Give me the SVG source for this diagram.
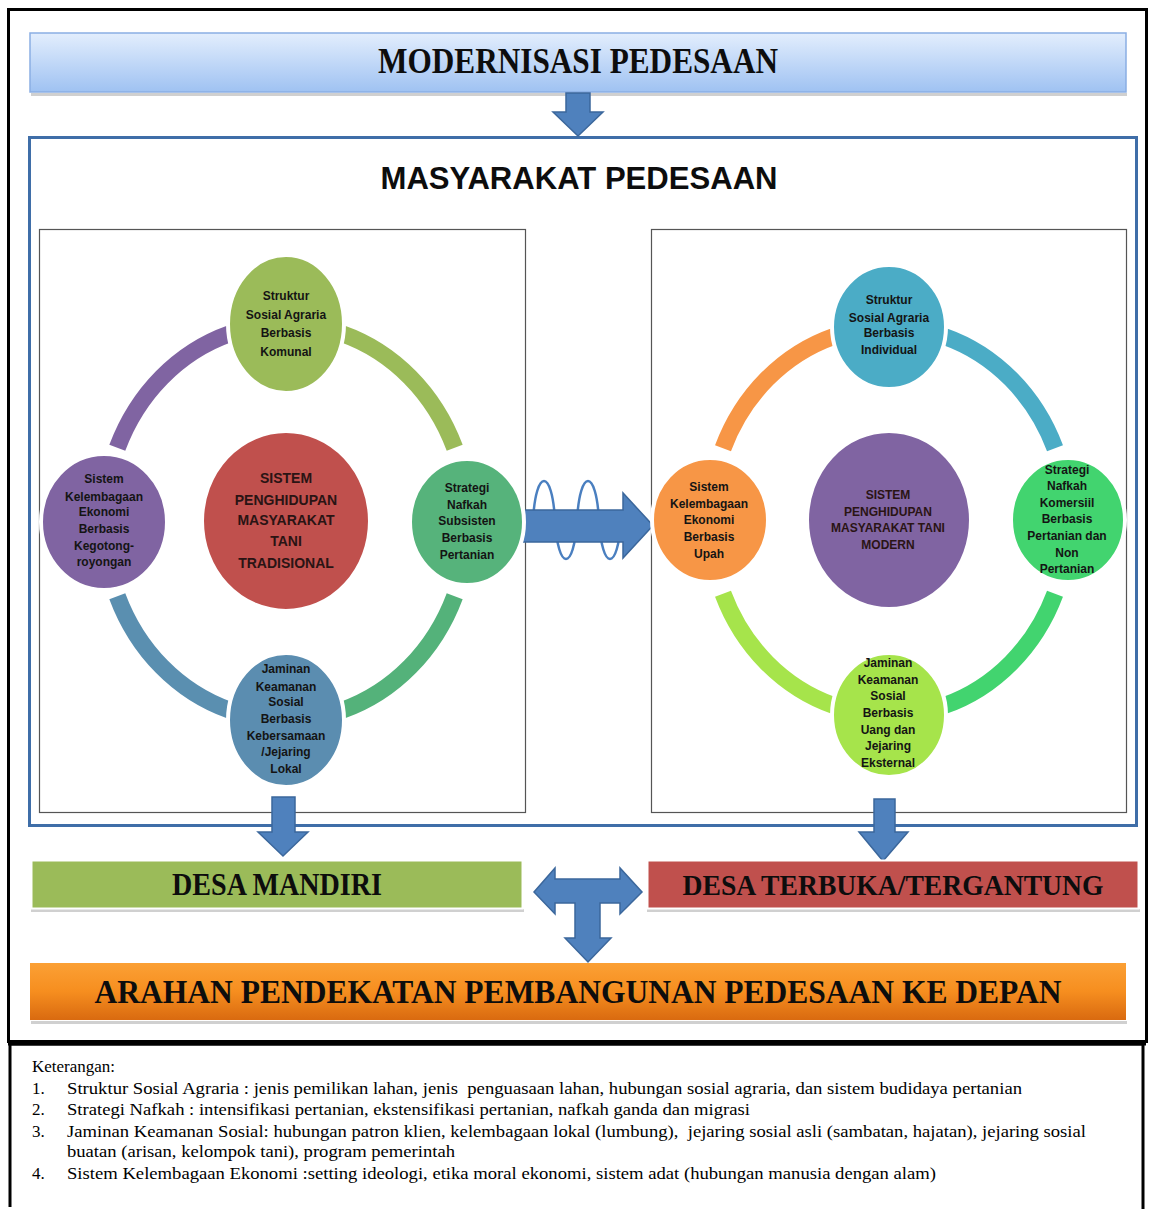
<svg xmlns="http://www.w3.org/2000/svg" width="1151" height="1209" viewBox="0 0 1151 1209">
<defs>
<linearGradient id="gBlue" x1="0" y1="0" x2="0" y2="1"><stop offset="0" stop-color="#e3eefd"/><stop offset="1" stop-color="#9fc2f2"/></linearGradient>
<linearGradient id="gOrange" x1="0" y1="0" x2="0" y2="1"><stop offset="0" stop-color="#fba035"/><stop offset="0.5" stop-color="#f68e1f"/><stop offset="1" stop-color="#d96a10"/></linearGradient>
<style>
.ban{font-family:"Liberation Serif","Times New Roman",serif;font-weight:bold;fill:#0d0d0d;text-anchor:middle}
.ct{font-family:"Liberation Sans",Arial,sans-serif;font-weight:bold;font-size:12px;fill:#141414;text-anchor:middle}
.cc{font-family:"Liberation Sans",Arial,sans-serif;font-weight:bold;fill:#2a1414;text-anchor:middle}
.leg{font-family:"Liberation Serif","Times New Roman",serif;font-size:17px;fill:#000;white-space:pre}
.arr{fill:#4f81bd;stroke:#3b679c;stroke-width:1.5}
.ring{fill:none;stroke-width:17}
.halo{stroke:#fff;stroke-width:4}
.shadow{fill:#d0d0d0}
</style>
</defs>
<rect width="1151" height="1209" fill="#fff"/>
<!-- frames -->
<rect x="8.5" y="9.5" width="1138" height="1032" fill="none" stroke="#000" stroke-width="3"/>
<path d="M10 1207 V1044 H1143 V1209" fill="none" stroke="#000" stroke-width="3"/>
<line x1="8" y1="1043" x2="1146" y2="1043" stroke="#000" stroke-width="5"/>

<g id="modernisasi">
<rect x="31" y="93" width="1096" height="3" class="shadow"/>
<rect x="30" y="33" width="1096" height="59" fill="url(#gBlue)" stroke="#8aaee3" stroke-width="1.5"/>
<text x="578" y="73" class="ban" font-size="35" textLength="400" lengthAdjust="spacingAndGlyphs">MODERNISASI PEDESAAN</text>
</g>

<g id="masyarakat">
<rect x="29.5" y="137.5" width="1107" height="688" fill="#fff" stroke="#3f6ea8" stroke-width="3"/>
<text x="579" y="189" font-family="Liberation Sans,Arial,sans-serif" font-weight="bold" font-size="32" text-anchor="middle" fill="#0d0d0d" textLength="397" lengthAdjust="spacingAndGlyphs">MASYARAKAT PEDESAAN</text>
</g>

<g id="box-tradisional">
<rect x="39.5" y="229.5" width="486" height="583" fill="#fff" stroke="#555" stroke-width="1.2"/>
</g>
<g id="box-modern">
<rect x="651.5" y="229.5" width="475" height="583" fill="#fff" stroke="#555" stroke-width="1.2"/>
</g>

<g id="connectors">
<!-- left ring -->
<path class="ring" stroke="#8064a2" d="M117.3,447.8 A182,198 0 0 1 229.8,333.7"/>
<path class="ring" stroke="#9bbb59" d="M342.2,333.7 A182,198 0 0 1 454.7,447.8"/>
<path class="ring" stroke="#54b27a" d="M454.7,596.2 A182,198 0 0 1 342.2,710.3"/>
<path class="ring" stroke="#5a8fb0" d="M229.8,710.3 A182,198 0 0 1 117.3,596.2"/>
<!-- right ring -->
<path class="ring" stroke="#f79646" d="M723,448.3 A179,194 0 0 1 833.7,336.5"/>
<path class="ring" stroke="#4bacc6" d="M944.3,336.5 A179,194 0 0 1 1055,448.3"/>
<path class="ring" stroke="#42d46f" d="M1055,593.7 A179,194 0 0 1 944.3,705.5"/>
<path class="ring" stroke="#a6e44b" d="M833.7,705.5 A179,194 0 0 1 723,593.7"/>
<!-- wave -->
<path d="M533,520 C536,468 552,468 555,520 C558,572 574,572 577,520 C580,468 596,468 599,520 C602,572 618,572 621,520" fill="none" stroke="#4a7fc0" stroke-width="2.5"/>
<!-- horizontal arrow -->
<path class="arr" d="M522,510 H623 V493 L653,525.5 L623,558 V542 H522 Z"/>
<!-- top down arrow -->
<path class="arr" d="M566,93 H590 V112 H603 L578,136 L553,112 H566 Z"/>
<!-- left down arrow -->
<path class="arr" d="M272,797 H295 V832 H308 L283,856 L258,832 H272 Z"/>
<!-- right down arrow -->
<path class="arr" d="M874,799 H895 V832 H908 L883,861 L859,832 H874 Z"/>
<!-- T arrow -->
<path class="arr" d="M534,892 L555,868 V879 H620 V868 L642,892 L620,914 V903 H600 V938 H611 L588,962 L565,938 H575 V903 H555 V914 Z"/>
</g>

<g id="n-struktur-komunal">
<ellipse cx="286" cy="324" rx="58" ry="69" fill="#9bbb59" class="halo"/>
<text class="ct"><tspan x="286" y="300">Struktur</tspan><tspan x="286" y="319">Sosial Agraria</tspan><tspan x="286" y="337">Berbasis</tspan><tspan x="286" y="356">Komunal</tspan></text>
</g>
<g id="n-kelembagaan-gotong">
<ellipse cx="104" cy="522" rx="63" ry="68" fill="#8064a2" class="halo"/>
<text class="ct"><tspan x="104" y="483">Sistem</tspan><tspan x="104" y="501">Kelembagaan</tspan><tspan x="104" y="516">Ekonomi</tspan><tspan x="104" y="533">Berbasis</tspan><tspan x="104" y="550">Kegotong-</tspan><tspan x="104" y="566">royongan</tspan></text>
</g>
<g id="n-tradisional">
<ellipse cx="286" cy="521" rx="84" ry="90" fill="#c0504d" class="halo"/>
<text class="cc" font-size="14"><tspan x="286" y="483">SISTEM</tspan><tspan x="286" y="505">PENGHIDUPAN</tspan><tspan x="286" y="525">MASYARAKAT</tspan><tspan x="286" y="546">TANI</tspan><tspan x="286" y="568">TRADISIONAL</tspan></text>
</g>
<g id="n-nafkah-subsisten">
<ellipse cx="467" cy="522" rx="57" ry="63" fill="#56b37b" class="halo"/>
<text class="ct"><tspan x="467" y="492">Strategi</tspan><tspan x="467" y="509">Nafkah</tspan><tspan x="467" y="525">Subsisten</tspan><tspan x="467" y="542">Berbasis</tspan><tspan x="467" y="559">Pertanian</tspan></text>
</g>
<g id="n-jaminan-lokal">
<ellipse cx="286" cy="720" rx="58" ry="67" fill="#5b8db0" class="halo"/>
<text class="ct"><tspan x="286" y="673">Jaminan</tspan><tspan x="286" y="691">Keamanan</tspan><tspan x="286" y="706">Sosial</tspan><tspan x="286" y="723">Berbasis</tspan><tspan x="286" y="740">Kebersamaan</tspan><tspan x="286" y="756">/Jejaring</tspan><tspan x="286" y="773">Lokal</tspan></text>
</g>

<g id="n-struktur-individual">
<ellipse cx="889" cy="327" rx="57" ry="62" fill="#4bacc6" class="halo"/>
<text class="ct"><tspan x="889" y="304">Struktur</tspan><tspan x="889" y="322">Sosial Agraria</tspan><tspan x="889" y="337">Berbasis</tspan><tspan x="889" y="354">Individual</tspan></text>
</g>
<g id="n-kelembagaan-upah">
<ellipse cx="710" cy="520" rx="58" ry="62" fill="#f79646" class="halo"/>
<text class="ct"><tspan x="709" y="491">Sistem</tspan><tspan x="709" y="508">Kelembagaan</tspan><tspan x="709" y="524">Ekonomi</tspan><tspan x="709" y="541">Berbasis</tspan><tspan x="709" y="558">Upah</tspan></text>
</g>
<g id="n-modern">
<ellipse cx="889" cy="520" rx="82" ry="89" fill="#8064a2" class="halo"/>
<text class="cc" font-size="12"><tspan x="888" y="499">SISTEM</tspan><tspan x="888" y="516">PENGHIDUPAN</tspan><tspan x="888" y="532">MASYARAKAT TANI</tspan><tspan x="888" y="549">MODERN</tspan></text>
</g>
<g id="n-nafkah-komersiil">
<ellipse cx="1068" cy="520" rx="57" ry="62" fill="#42d46f" class="halo"/>
<text class="ct"><tspan x="1067" y="474">Strategi</tspan><tspan x="1067" y="490">Nafkah</tspan><tspan x="1067" y="507">Komersiil</tspan><tspan x="1067" y="523">Berbasis</tspan><tspan x="1067" y="540">Pertanian dan</tspan><tspan x="1067" y="557">Non</tspan><tspan x="1067" y="573">Pertanian</tspan></text>
</g>
<g id="n-jaminan-eksternal">
<ellipse cx="889" cy="715" rx="57" ry="62" fill="#a6e44b" class="halo"/>
<text class="ct"><tspan x="888" y="667">Jaminan</tspan><tspan x="888" y="684">Keamanan</tspan><tspan x="888" y="700">Sosial</tspan><tspan x="888" y="717">Berbasis</tspan><tspan x="888" y="734">Uang dan</tspan><tspan x="888" y="750">Jejaring</tspan><tspan x="888" y="767">Eksternal</tspan></text>
</g>

<g id="desa-mandiri">
<rect x="31" y="909" width="493" height="3" class="shadow"/>
<rect x="31.5" y="860.5" width="491" height="48" fill="#9bbb59" stroke="#fff" stroke-width="2"/>
<text x="277" y="895" class="ban" font-size="31" textLength="210" lengthAdjust="spacingAndGlyphs">DESA MANDIRI</text>
</g>
<g id="desa-terbuka">
<rect x="647" y="909" width="493" height="3" class="shadow"/>
<rect x="647.5" y="860.5" width="491" height="48" fill="#c0504d" stroke="#fff" stroke-width="2"/>
<text x="893" y="895" class="ban" font-size="29" textLength="421" lengthAdjust="spacingAndGlyphs">DESA TERBUKA/TERGANTUNG</text>
</g>
<g id="arahan">
<rect x="31" y="1021" width="1096" height="3" class="shadow"/>
<rect x="30" y="963" width="1096" height="57" fill="url(#gOrange)"/>
<text x="578" y="1003" class="ban" font-size="33" textLength="967" lengthAdjust="spacingAndGlyphs">ARAHAN PENDEKATAN PEMBANGUNAN PEDESAAN KE DEPAN</text>
</g>

<g id="keterangan">
<text x="32" y="1072" class="leg">Keterangan:</text>
<text x="32" y="1094" class="leg">1.</text>
<text x="67" y="1094" class="leg" textLength="955" lengthAdjust="spacingAndGlyphs">Struktur Sosial Agraria : jenis pemilikan lahan, jenis  penguasaan lahan, hubungan sosial agraria, dan sistem budidaya pertanian</text>
<text x="32" y="1115" class="leg">2.</text>
<text x="67" y="1115" class="leg" textLength="683" lengthAdjust="spacingAndGlyphs">Strategi Nafkah : intensifikasi pertanian, ekstensifikasi pertanian, nafkah ganda dan migrasi</text>
<text x="32" y="1137" class="leg">3.</text>
<text x="67" y="1137" class="leg" textLength="1019" lengthAdjust="spacingAndGlyphs">Jaminan Keamanan Sosial: hubungan patron klien, kelembagaan lokal (lumbung),  jejaring sosial asli (sambatan, hajatan), jejaring sosial</text>
<text x="67" y="1157" class="leg" textLength="388" lengthAdjust="spacingAndGlyphs">buatan (arisan, kelompok tani), program pemerintah</text>
<text x="32" y="1179" class="leg">4.</text>
<text x="67" y="1179" class="leg" textLength="869" lengthAdjust="spacingAndGlyphs">Sistem Kelembagaan Ekonomi :setting ideologi, etika moral ekonomi, sistem adat (hubungan manusia dengan alam)</text>
</g>
</svg>
